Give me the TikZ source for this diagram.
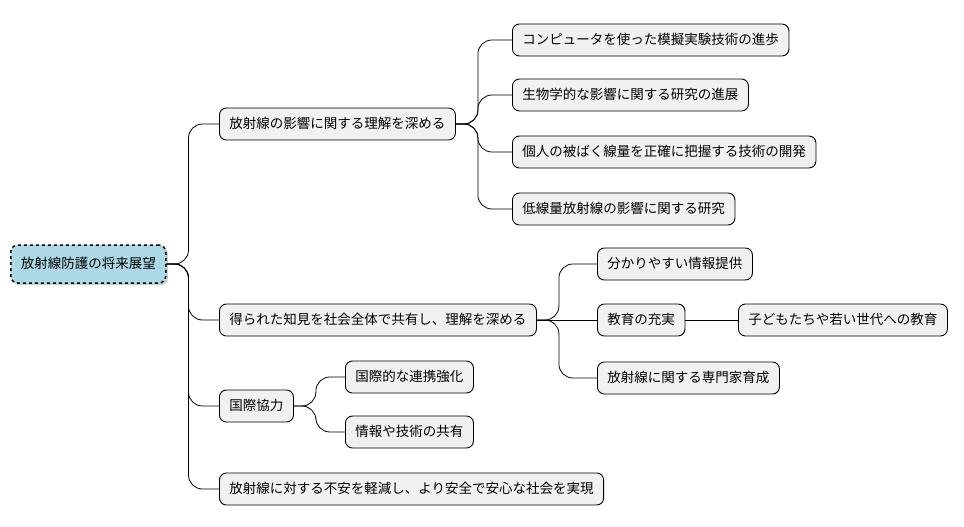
\documentclass[tikz,border=0pt]{standalone}
\usepackage{fontspec}
\setmainfont{Noto Sans CJK JP}
\usetikzlibrary{shadows}
\definecolor{rootfill}{HTML}{ADD8E6}
\definecolor{boxfill}{HTML}{F1F1F1}
\begin{document}
\begin{tikzpicture}[x=1pt,y=-1pt,
  box/.style={draw=black,fill=boxfill,rounded corners=7pt,line width=0.9pt,
    font=\fontsize{13.5}{16}\selectfont,inner xsep=10pt,minimum height=32pt,anchor=west,
    text height=11pt,text depth=2pt},
  root/.style={box,fill=rootfill,dashed,line width=1.5pt,minimum height=38pt,
    drop shadow={shadow xshift=2pt,shadow yshift=-2pt,fill=black!40}},
  link/.style={draw=black,line width=0.8pt,rounded corners=14pt}]
\useasboundingbox (0,0) rectangle (964,527);
\node[root] (r) at (10,264) {放射線防護の将来展望};
\node[box] (a) at (219,124) {放射線の影響に関する理解を深める};
\node[box] (b) at (219,320) {得られた知見を社会全体で共有し、理解を深める};
\node[box] (c) at (219,406) {国際協力};
\node[box] (d) at (219,489) {放射線に対する不安を軽減し、より安全で安心な社会を実現};
\node[box] (a1) at (512,40) {コンピュータを使った模擬実験技術の進歩};
\node[box] (a2) at (512,95) {生物学的な影響に関する研究の進展};
\node[box] (a3) at (512,152) {個人の被ばく線量を正確に把握する技術の開発};
\node[box] (a4) at (512,209) {低線量放射線の影響に関する研究};
\node[box] (b1) at (597,264) {分かりやすい情報提供};
\node[box] (b2) at (597,320) {教育の充実};
\node[box] (b2a) at (738,320) {子どもたちや若い世代への教育};
\node[box] (b3) at (597,378) {放射線に関する専門家育成};
\node[box] (c1) at (345,377) {国際的な連携強化};
\node[box] (c2) at (345,432) {情報や技術の共有};
\foreach \p/\c in {r/a,r/b,r/c,r/d,a/a1,a/a2,a/a3,a/a4,b/b1,b/b3,c/c1,c/c2}
  \draw[link] (\p.east) -- ++(22,0) |- (\c.west);
\draw[link] (b.east) -- (b2.west);
\draw[link] (b2.east) -- (b2a.west);
\end{tikzpicture}
\end{document}
